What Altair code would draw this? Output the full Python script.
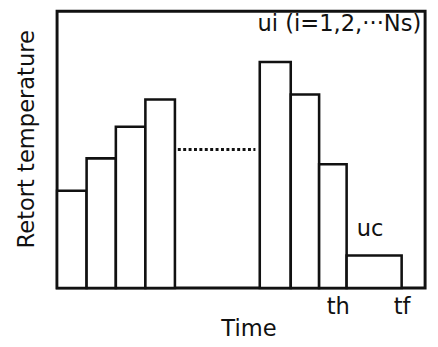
import altair as alt
import pandas as pd

# Stage boundaries along the time axis (bar widths in units of one stage)
bar_start = [0.0, 1.02, 2.03, 3.05, 7.0, 8.07, 9.05, 10.0]
bar_end = [1.02, 2.03, 3.05, 4.07, 8.07, 9.05, 10.0, 11.9]
bar_temp = [35.1, 46.8, 58.2, 68.1, 81.6, 69.9, 44.7, 11.7]

# Dotted "..." between the stage groups
dot_start = [4.17]
dot_end = [6.85]
dot_temp = [50.0]

# Axis label times
tick_times = [10.0, 11.9]
tick_names = ["th", "tf"]

# Annotations
ann_text = ["ui (i=1,2,\u00b7\u00b7\u00b7Ns)", "uc"]
ann_time = [9.75, 10.81]
ann_temp = [95.3, 21.3]

T_MAX = 12.71
Y_MAX = 100

bars = pd.DataFrame({"t0": bar_start, "t1": bar_end, "u": bar_temp})
dots = pd.DataFrame({"t0": dot_start, "t1": dot_end, "u": dot_temp})
ann = pd.DataFrame({"label": ann_text, "t": ann_time, "u": ann_temp})
frame = pd.DataFrame({"t0": [0.0], "t1": [T_MAX], "u0": [0.0], "u1": [Y_MAX]})

FONT = "DejaVu Sans"
FS = 23

mid = (tick_times[0] + tick_times[1]) / 2
label_expr = f"datum.value < {mid} ? '{tick_names[0]}' : '{tick_names[1]}'"

xscale = alt.Scale(domain=[0, T_MAX], nice=False, zero=True)
yscale = alt.Scale(domain=[0, Y_MAX], nice=False)

xaxis = alt.Axis(
    title="Time",
    values=tick_times,
    labelExpr=label_expr,
    ticks=False,
    domain=False,
    grid=False,
    labelFont=FONT,
    labelFontSize=FS,
    labelColor="#111",
    labelPadding=8,
    labelOffset={"condition": {"test": f"datum.value < {mid}", "value": -9}, "value": 0},
    titleFont=FONT,
    titleFontSize=FS,
    titleFontWeight="normal",
    titleColor="#111",
    titleBaseline="top",
    titleX=195,
    titleY=30,
)
yaxis = alt.Axis(
    title="Retort temperature",
    labels=False,
    ticks=False,
    domain=False,
    grid=False,
    titleFont=FONT,
    titleFontSize=FS,
    titleFontWeight="normal",
    titleColor="#111",
    titlePadding=19,
    titleY=130,
)

frame_layer = alt.Chart(frame).mark_rect(
    fill="white", stroke="#111", strokeWidth=3
).encode(
    x=alt.X("t0:Q", scale=xscale, axis=xaxis),
    x2="t1:Q",
    y=alt.Y("u0:Q", scale=yscale, axis=yaxis),
    y2="u1:Q",
)

bar_layer = alt.Chart(bars).mark_rect(
    fill="white", stroke="#111", strokeWidth=2.6
).encode(
    x=alt.X("t0:Q", scale=xscale),
    x2="t1:Q",
    y=alt.Y("u:Q", scale=yscale),
    y2=alt.datum(0),
)

dot_layer = alt.Chart(dots).mark_rule(
    stroke="#111", strokeWidth=3, strokeDash=[3, 2.5]
).encode(
    x=alt.X("t0:Q", scale=xscale),
    x2="t1:Q",
    y=alt.Y("u:Q", scale=yscale),
)

ann_layer = alt.Chart(ann).mark_text(
    font=FONT, fontSize=FS, color="#111", align="center", baseline="middle"
).encode(
    x=alt.X("t:Q", scale=xscale),
    y=alt.Y("u:Q", scale=yscale),
    text="label:N",
)

chart = (
    alt.layer(frame_layer, bar_layer, dot_layer, ann_layer)
    .properties(
        width=375,
        height=282,
        autosize=alt.AutoSizeParams(type="none"),
        padding={"left": 50, "top": 0, "right": 5, "bottom": 57},
    )
    .configure_view(strokeWidth=0)
    .configure(background="white")
)

chart.save("out.html", embed_options={"renderer": "svg", "actions": False})
